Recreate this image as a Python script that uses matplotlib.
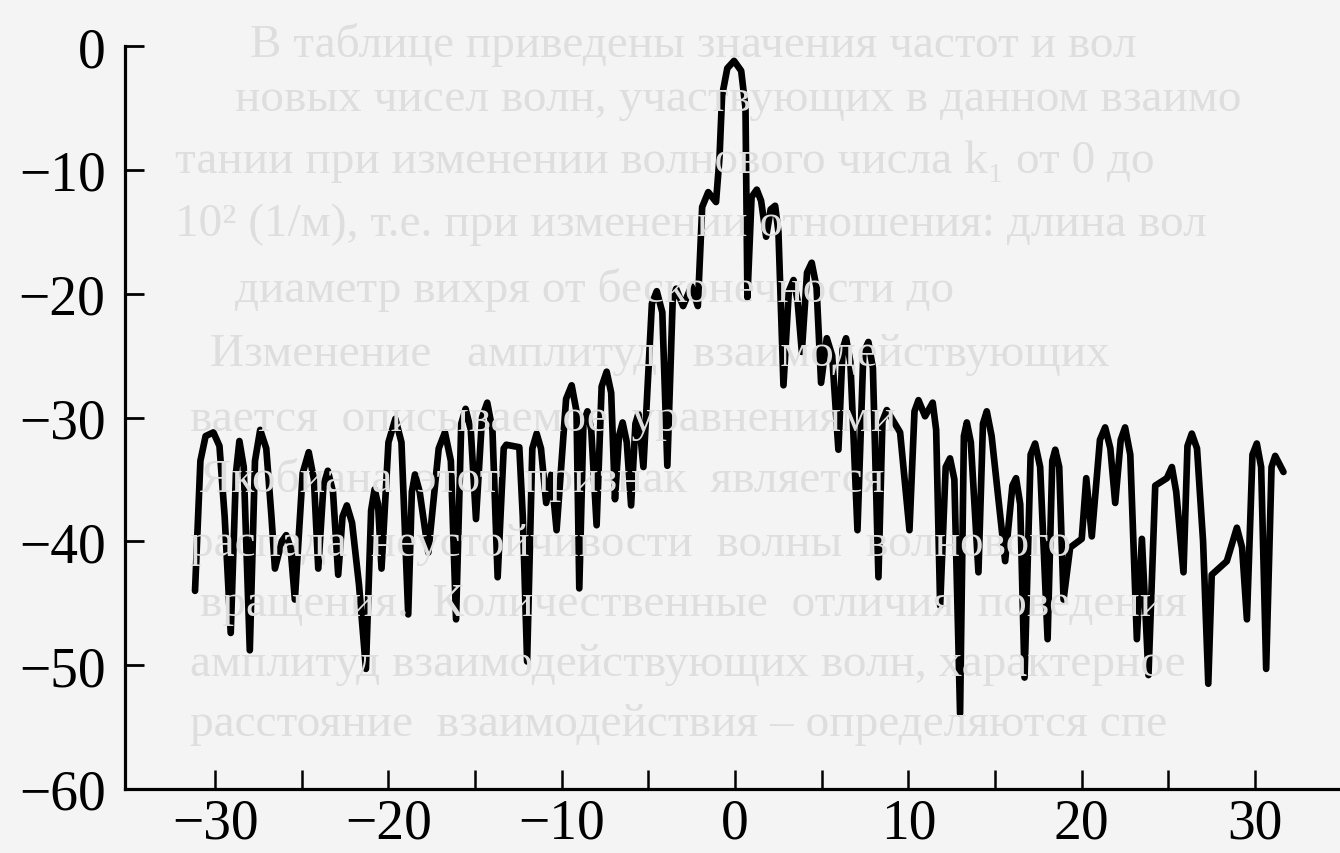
import matplotlib
matplotlib.use('Agg')
from matplotlib import pyplot as plt

# Wave number (x) and level in dB (y).
k = [-31.16, -30.85, -30.55, -30.1, -29.75, -29.45, -29.1, -28.8, -28.6, -28.35,
     -28.0, -27.7, -27.4, -27.05, -26.75, -26.55, -26.15, -25.9, -25.65, -25.4,
     -24.95, -24.6, -24.3, -24.05, -23.75, -23.5, -23.2, -22.9, -22.65, -22.4,
     -22.1, -21.7, -21.3, -21.0, -20.8, -20.6, -20.4, -20.0, -19.6, -19.25,
     -18.86, -18.65, -18.47, -18.2, -17.7, -17.1, -16.74, -16.4, -16.1, -15.8,
     -15.55, -15.25, -14.95, -14.6, -14.3, -14.0, -13.7, -13.35, -13.2, -12.45,
     -12.25, -12.0, -11.7, -11.45, -11.2, -10.9, -10.6, -10.3, -9.75, -9.43,
     -9.15, -8.99, -8.75, -8.52, -8.3, -7.99, -7.7, -7.41, -7.15, -6.93,
     -6.7, -6.49, -6.25, -6.0, -5.75, -5.58, -5.29, -4.8, -4.52, -4.2,
     -3.91, -3.6, -3.4, -3.0, -2.52, -2.15, -1.9, -1.55, -1.1, -0.9,
     -0.75, -0.45, -0.06, 0.35, 0.6, 0.71, 0.95, 1.25, 1.5, 1.79,
     2.05, 2.31, 2.5, 2.79, 3.1, 3.37, 3.6, 3.85, 4.15, 4.42,
     4.7, 4.96, 5.29, 5.6, 5.96, 6.2, 6.4, 6.65, 7.06, 7.4,
     7.69, 7.95, 8.27, 8.5, 8.75, 9.52, 10.06, 10.35, 10.58, 10.96,
     11.4, 11.6, 11.83, 12.15, 12.4, 12.65, 12.98, 13.2, 13.37, 13.6,
     14.04, 14.3, 14.52, 14.8, 15.58, 16.0, 16.21, 16.45, 16.7, 17.05,
     17.31, 17.6, 18.03, 18.3, 18.47, 18.7, 18.95, 19.33, 20.0, 20.26,
     20.58, 21.05, 21.35, 21.65, 21.93, 22.25, 22.5, 22.8, 23.18, 23.47,
     23.85, 24.24, 24.91, 25.2, 25.45, 25.87, 26.1, 26.35, 26.65, 27.0,
     27.3, 27.5, 28.37, 28.95, 29.25, 29.53, 29.85, 30.1, 30.35, 30.64,
     30.95, 31.16, 31.64]
level = [-44.0, -33.5, -31.5, -31.2, -32.3, -38.0, -47.4, -34.5, -31.9, -34.0,
         -48.8, -33.5, -31.0, -32.5, -38.0, -42.2, -40.0, -39.5, -40.5, -44.7,
         -34.5, -32.8, -35.0, -42.2, -35.5, -34.3, -36.0, -42.7, -38.0, -37.1,
         -38.5, -43.5, -50.3, -37.5, -35.8, -37.0, -42.2, -32.0, -30.1, -32.0,
         -45.9, -36.0, -34.6, -36.0, -40.9, -32.5, -31.2, -33.5, -46.3, -30.5,
         -29.3, -31.0, -38.2, -30.0, -28.8, -31.0, -42.9, -32.5, -32.2, -32.4,
         -38.0, -49.7, -32.5, -31.3, -32.5, -36.9, -34.6, -39.1, -28.5, -27.4,
         -29.5, -43.8, -30.5, -29.5, -31.0, -38.7, -27.5, -26.3, -28.0, -36.6,
         -31.5, -30.4, -32.0, -37.1, -30.5, -29.7, -34.0, -20.8, -19.8, -21.5,
         -33.9, -20.5, -19.6, -21.0, -19.4, -21.0, -13.0, -11.8, -12.6, -9.0,
         -4.0, -1.8, -1.2, -2.0, -5.0, -20.3, -12.2, -11.6, -12.5, -15.4,
         -13.2, -12.9, -15.0, -27.4, -19.8, -18.9, -20.5, -24.7, -18.3, -17.5,
         -19.5, -27.2, -23.6, -25.0, -32.6, -24.5, -23.6, -25.5, -39.1, -24.8,
         -23.9, -26.0, -42.9, -30.3, -29.4, -31.2, -39.1, -29.5, -28.6, -29.9,
         -28.8, -31.0, -45.2, -34.0, -33.3, -35.0, -53.9, -31.5, -30.4, -32.0,
         -42.5, -30.5, -29.5, -31.5, -41.6, -35.5, -34.9, -37.0, -51.0, -33.0,
         -32.1, -34.0, -47.9, -33.5, -32.6, -34.0, -44.7, -40.5, -39.8, -34.9,
         -39.6, -31.8, -30.8, -32.5, -36.9, -31.8, -30.8, -33.0, -47.9, -39.8,
         -50.8, -35.5, -34.9, -34.0, -36.0, -42.5, -32.3, -31.3, -32.5, -40.0,
         -51.5, -42.7, -41.6, -38.9, -40.5, -46.3, -33.0, -32.1, -34.0, -50.3,
         -34.0, -33.1, -34.4]

x_ticks = list(range(-30, 31, 5))
x_labels = ['\u221230', '', '\u221220', '', '\u221210', '', '0', '', '10', '', '20', '', '30']
y_ticks = [0, -10, -20, -30, -40, -50, -60]
y_labels = ['0', '\u221210', '\u221220', '\u221230', '\u221240', '\u221250', '\u221260']

# Text from the other side of the page that shows through the scan.
ghost_lines = [
    'В таблице приведены значения частот и вол',
    'новых чисел волн, участвующих в данном взаимо',
    'тании при изменении волнового числа k\u2081 от 0 до',
    '10\u00b2 (1/м), т.е. при изменении отношения: длина вол',
    'диаметр вихря от бесконечности до',
    'Изменение   амплитуд   взаимодействующих',
    'вается  описываемое  уравнениями',
    'Якобиана  этот  признак  является',
    'распада  неустойчивости  волны  волнового',
    'вращения.  Количественные  отличия  поведения',
    'амплитуд взаимодействующих волн, характерное',
    'расстояние  взаимодействия \u2013 определяются спе',
]
ghost_x = [250, 235, 175, 175, 235, 210, 190, 200, 190, 200, 190, 190]
ghost_y = [45, 100, 162, 225, 290, 355, 420, 480, 545, 605, 665, 725]

plt.rcParams['font.family'] = ['Liberation Serif', 'DejaVu Serif']

fig = plt.figure(figsize=(13.4, 8.54), dpi=100, facecolor='#f4f4f4')

for txt, gx, gy in zip(ghost_lines, ghost_x, ghost_y):
    fig.text(gx / 1340, 1 - gy / 854, txt, fontsize=34, color='#dedede',
             va='center', ha='left', zorder=0)

ax = fig.add_axes([125 / 1340, 64 / 854, 1 - 125 / 1340, (790 - 47) / 854])
ax.patch.set_visible(False)

ax.plot(k, level, color='black', linewidth=4.8, solid_joinstyle='round',
        solid_capstyle='round', zorder=3)

ax.set_xlim(-35.2, 34.9)
ax.set_ylim(-60, 0)

ax.spines['top'].set_visible(False)
ax.spines['right'].set_visible(False)
ax.spines['left'].set_linewidth(2.3)
ax.spines['bottom'].set_linewidth(2.3)

ax.set_xticks(x_ticks)
ax.set_xticklabels(x_labels)
ax.set_yticks(y_ticks)
ax.set_yticklabels(y_labels)
ax.tick_params(axis='x', direction='in', length=14, width=1.8, labelsize=40, pad=6)
ax.tick_params(axis='y', direction='in', length=14, width=2.0, labelsize=40, pad=14)

fig.savefig('out.png', dpi=100, facecolor=fig.get_facecolor())
